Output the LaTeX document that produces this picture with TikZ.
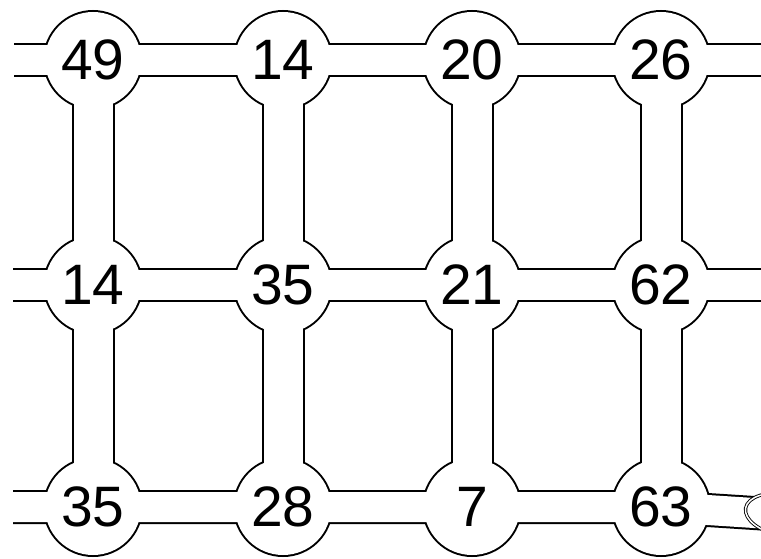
\documentclass[tikz,border=0pt]{standalone}
\usepackage{fontspec}
\setmainfont{Liberation Sans}
\usetikzlibrary{backgrounds,shapes.geometric}

\begin{document}
\begin{tikzpicture}[x=1pt, y=-1pt, font=\fontsize{57}{57}\selectfont]
  \tikzstyle{cell} = [circle, minimum size=98pt, inner sep=0pt]
  \tikzstyle{hout} = [line width=34pt]
  \tikzstyle{hin}  = [line width=30pt, white]
  \tikzstyle{vout} = [line width=43pt]
  \tikzstyle{vin}  = [line width=39pt, white]

  \useasboundingbox (0,0) rectangle (761,559);

  % top row
  \node[cell] (a1) at (93,60)  {49};
  \node[cell] (a2) at (283,60) {14};
  \node[cell] (a3) at (472,60) {20};
  \node[cell] (a4) at (661,60) {26};
  % middle row
  \node[cell] (b1) at (93,285)  {14};
  \node[cell] (b2) at (283,285) {35};
  \node[cell] (b3) at (472,285) {21};
  \node[cell] (b4) at (661,285) {62};
  % bottom row
  \node[cell] (c1) at (93,507)  {35};
  \node[cell] (c2) at (283,507) {28};
  \node[cell] (c3) at (472,507) {7};
  \node[cell] (c4) at (661,507) {63};

  % open pipe ends
  \coordinate (a0) at (14,60);
  \coordinate (b0) at (13,285);
  \coordinate (c0) at (13,507);
  \coordinate (a5) at (775,60);
  \coordinate (b5) at (775,285);
  \node[ellipse, draw, double, double distance=1.5pt, fill=white, line width=0.9pt,
        minimum width=80pt, minimum height=42pt, rotate=-10] (plug) at (785,515) {};

  \begin{pgfonlayer}{background}
    % outlines
    \draw[hout] (a0) -- (a1.center) -- (a2.center) -- (a3.center) -- (a4.center) -- (a5);
    \draw[hout] (b0) -- (b1.center) -- (b2.center) -- (b3.center) -- (b4.center) -- (b5);
    \draw[hout] (c0) -- (c1.center) -- (c2.center) -- (c3.center) -- (c4.center) -- (plug.center);
    \foreach \k in {1,...,4}
      \draw[vout] (a\k.center) -- (c\k.center);
    \foreach \n in {a1,a2,a3,a4,b1,b2,b3,b4,c1,c2,c3,c4}
      \fill (\n.center) circle (50pt);
    % inner space
    \draw[hin] (a0) -- (a1.center) -- (a2.center) -- (a3.center) -- (a4.center) -- (a5);
    \draw[hin] (b0) -- (b1.center) -- (b2.center) -- (b3.center) -- (b4.center) -- (b5);
    \draw[hin] (c0) -- (c1.center) -- (c2.center) -- (c3.center) -- (c4.center) -- (plug.center);
    \foreach \k in {1,...,4}
      \draw[vin] (a\k.center) -- (c\k.center);
    \foreach \n in {a1,a2,a3,a4,b1,b2,b3,b4,c1,c2,c3,c4}
      \fill[white] (\n.center) circle (48pt);
  \end{pgfonlayer}
\end{tikzpicture}
\end{document}
